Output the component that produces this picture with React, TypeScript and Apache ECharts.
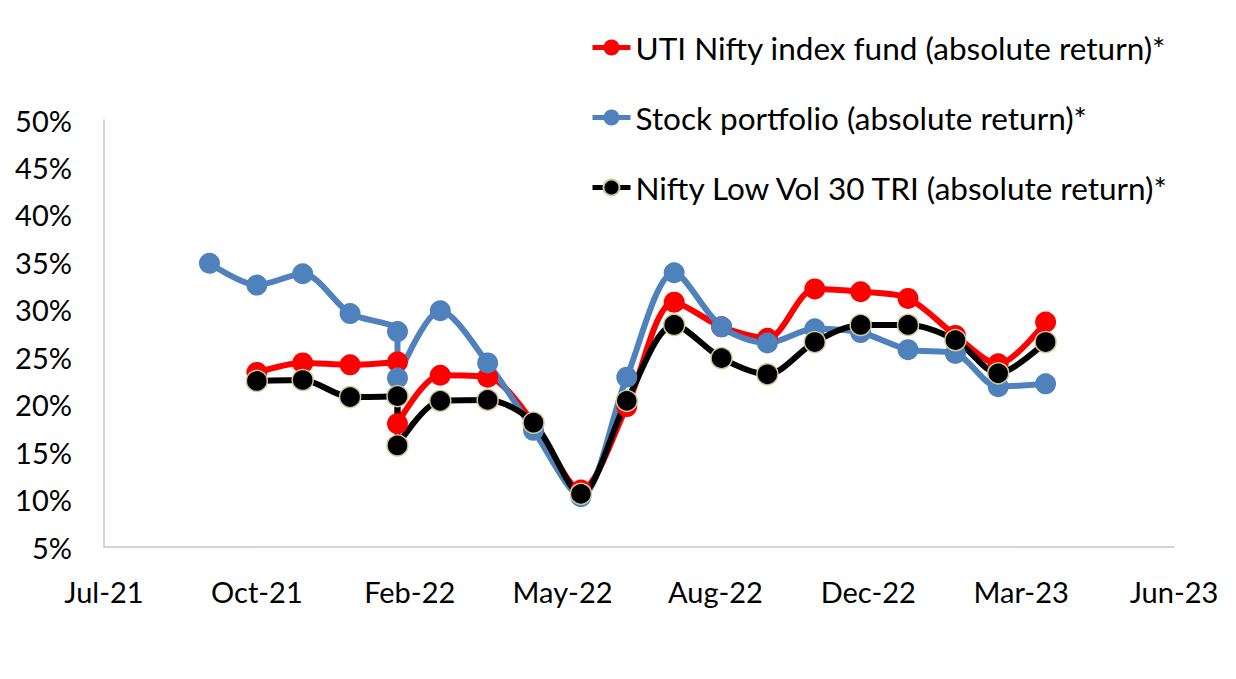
import React, { useEffect, useRef } from "react";
import * as echarts from "echarts";

// Month-end observation dates (January 2022 appears twice: the series restart there)
const dates = [
  "2021-09-30", "2021-10-31", "2021-11-30", "2021-12-31", "2022-01-31", "2022-01-31",
  "2022-02-28", "2022-03-31", "2022-04-30", "2022-05-31", "2022-06-30", "2022-07-31",
  "2022-08-31", "2022-09-30", "2022-10-31", "2022-11-30", "2022-12-31", "2023-01-31",
  "2023-02-28", "2023-03-31",
];

// Absolute returns in percent
const utiNiftyIndexFund = [
  null, 23.4, 24.4, 24.2, 24.5, 18.0, 23.1, 22.9, 18.1, 11.0, 19.8, 30.8,
  28.2, 27.0, 32.2, 31.9, 31.2, 27.3, 24.3, 28.7,
];
const stockPortfolio = [
  34.9, 32.6, 33.8, 29.6, 27.7, 22.8, 29.9, 24.4, 17.3, 10.3, 22.9, 33.9,
  28.2, 26.5, 28.0, 27.6, 25.8, 25.4, 21.9, 22.2,
];
const niftyLowVol30Tri = [
  null, 22.5, 22.6, 20.8, 20.9, 15.7, 20.4, 20.5, 18.1, 10.6, 20.4, 28.4,
  24.9, 23.2, 26.6, 28.4, 28.4, 26.8, 23.3, 26.6,
];

const seriesNames = [
  "UTI Nifty index fund (absolute return)*",
  "Stock portfolio (absolute return)*",
  "Nifty Low Vol 30 TRI (absolute return)*",
];

// Date axis: starts on 23 Jul 2021, one major unit every 100 days
const axisOrigin = "2021-07-23";
const axisStepDays = 100;
const xTickLabels = ["Jul-21", "Oct-21", "Feb-22", "May-22", "Aug-22", "Dec-22", "Mar-23", "Jun-23"];
const yTicks = { min: 5, max: 50, step: 5 };

const DAY = 86400000;
const dayOffset = (d: string) =>
  Math.round((Date.parse(d + "T00:00:00Z") - Date.parse(axisOrigin + "T00:00:00Z")) / DAY);

const toPoints = (values: (number | null)[]) =>
  dates
    .map((d, i) => (values[i] == null ? null : [dayOffset(d), values[i]]))
    .filter((p) => p !== null);

const FONT = "Lato";

export default function App() {
  const ref = useRef<HTMLDivElement>(null);

  useEffect(() => {
    if (!ref.current) return;
    const chart = echarts.init(ref.current, undefined, { renderer: "svg" });

    const lineSeries = (name: string, values: (number | null)[], color: string, border?: string) => ({
      name,
      type: "line",
      data: toPoints(values),
      smooth: 0.3,
      symbol: "circle",
      symbolSize: 21,
      showSymbol: true,
      lineStyle: { color, width: 6 },
      itemStyle: border
        ? { color, borderColor: border, borderWidth: 1.5 }
        : { color, borderColor: color, borderWidth: 0 },
      emphasis: { disabled: true },
    });

    chart.setOption({
      animation: false,
      backgroundColor: "#ffffff",
      textStyle: { fontFamily: FONT },
      grid: { left: 104, right: 62, top: 120, bottom: 132, containLabel: false },
      legend: {
        orient: "vertical",
        left: 590,
        top: 31,
        padding: 0,
        itemWidth: 38,
        itemHeight: 20,
        itemGap: 37,
        lineStyle: { width: 5 },
        textStyle: { fontFamily: FONT, fontSize: 31.5, color: "#000", lineHeight: 33 },
        data: seriesNames,
      },
      xAxis: {
        type: "value",
        min: 0,
        max: axisStepDays * (xTickLabels.length - 1),
        interval: axisStepDays,
        axisLine: { show: true, lineStyle: { color: "#c8c8c8", width: 1.5 } },
        axisTick: { show: false },
        splitLine: { show: false },
        axisLabel: {
          margin: 30,
          fontFamily: FONT,
          fontSize: 29,
          color: "#000",
          formatter: (v: number) => xTickLabels[Math.round(v / axisStepDays)] ?? "",
        },
      },
      yAxis: {
        type: "value",
        min: yTicks.min,
        max: yTicks.max,
        interval: yTicks.step,
        axisLine: { show: true, lineStyle: { color: "#c8c8c8", width: 1.5 } },
        axisTick: { show: false },
        splitLine: { show: false },
        axisLabel: {
          margin: 32,
          fontFamily: FONT,
          fontSize: 29,
          color: "#000",
          formatter: "{value}%",
        },
      },
      series: [
        lineSeries(seriesNames[0], utiNiftyIndexFund, "#ff0000"),
        lineSeries(seriesNames[1], stockPortfolio, "#4f81bd"),
        lineSeries(seriesNames[2], niftyLowVol30Tri, "#000000", "#cfc996"),
      ],
    });

    return () => chart.dispose();
  }, []);

  return (
    <div
      ref={ref}
      style={{ position: "fixed", left: 0, top: 0, width: 1236, height: 679, background: "#fff" }}
    />
  );
}
